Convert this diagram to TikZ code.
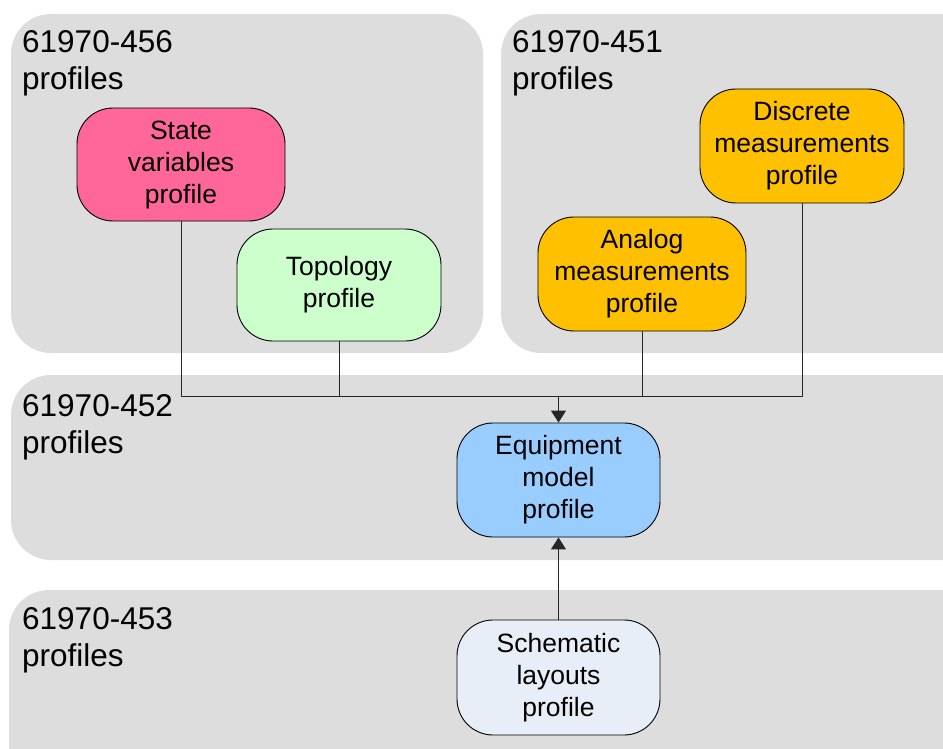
\documentclass[tikz,border=0pt]{standalone}
\usepackage{fontspec}
\setmainfont{Liberation Sans}
\usetikzlibrary{arrows.meta}
\definecolor{panelgray}{HTML}{DDDDDD}
\definecolor{pinkfill}{HTML}{FF6699}
\definecolor{greenfill}{HTML}{CCFFCC}
\definecolor{orangefill}{HTML}{FFC000}
\definecolor{bluefill}{HTML}{99CCFF}
\definecolor{palefill}{HTML}{E8EEF8}
\tikzset{
  panel/.style={fill=panelgray, draw=none, rounded corners=40pt},
  paneltitle/.style={anchor=north west, align=left, inner sep=0pt,
    font=\fontsize{31.5}{37}\selectfont},
  profilebox/.style={draw=black, line width=0.9pt, rounded corners=36pt,
    minimum width=204pt, minimum height=113pt, inner sep=0pt, align=center,
    font=\fontsize{26.5}{32}\selectfont},
  link/.style={draw=black!85, line width=1pt},
  feed/.style={link, -{Triangle[length=12pt,width=15pt]}}
}
\begin{document}
\begin{tikzpicture}[x=1pt,y=-1pt]
  \useasboundingbox (0,0) rectangle (943,749);
  \clip (0,0) rectangle (943,749);

  % grouping panels
  \path[panel] (11,14) rectangle (483,353);
  \path[panel] (501,14) rectangle (985,353);
  \path[panel] (11,375) rectangle (985,560);
  \path[panel] (9,590) rectangle (985,790);

  \node[paneltitle] (t456) at (22,30) {61970-456\\profiles};
  \node[paneltitle] (t451) at (512,30) {61970-451\\profiles};
  \node[paneltitle] (t452) at (22,394) {61970-452\\profiles};
  \node[paneltitle] (t453) at (22,607) {61970-453\\profiles};

  % profiles
  \node[profilebox, fill=pinkfill, minimum width=208pt] (sv) at (181,164.5) {State\\variables\\profile};
  \node[profilebox, fill=greenfill, minimum height=112pt] (topo) at (339,285) {Topology\\profile};
  \node[profilebox, fill=orangefill, minimum height=114pt] (disc) at (802,146) {Discrete\\measurements\\profile};
  \node[profilebox, fill=orangefill, minimum width=208pt, minimum height=114pt] (ana) at (642,274) {Analog\\measurements\\profile};
  \node[profilebox, fill=bluefill, minimum width=203pt, minimum height=114pt] (eq) at (558.5,480) {Equipment\\model\\profile};
  \node[profilebox, fill=palefill, minimum width=203pt, minimum height=115pt] (sch) at (558.5,677.5) {Schematic\\layouts\\profile};

  % connectors
  \coordinate (join) at (558.5,396);
  \draw[link] (sv.south) |- (join);
  \draw[link] (topo.south) |- (join);
  \draw[link] (ana.south) |- (join);
  \draw[link] (disc.south) |- (join);
  \draw[feed] (join) -- (eq.north);
  \draw[feed] (sch.north) -- (eq.south);
\end{tikzpicture}
\end{document}
